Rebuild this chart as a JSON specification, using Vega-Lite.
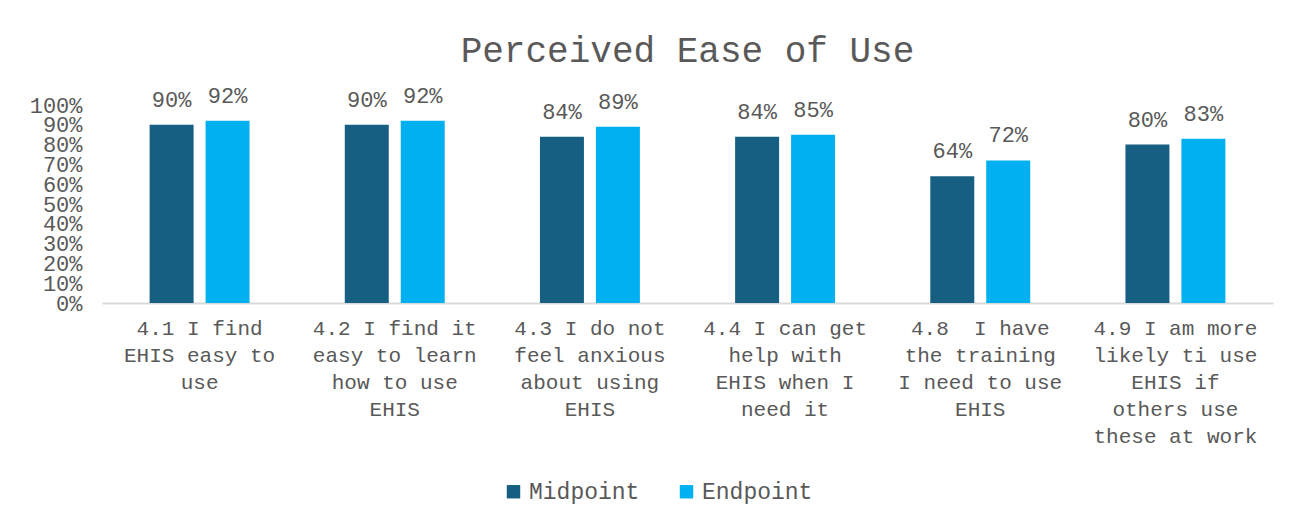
{
  "$schema": "https://vega.github.io/schema/vega-lite/v6.json",
  "width": 1171,
  "height": 198,
  "autosize": {"type": "none"},
  "padding": {"left": 102, "top": 105, "right": 33, "bottom": 219},
  "background": "white",
  "title": {
    "text": "Perceived Ease of Use",
    "font": "Liberation Mono",
    "fontSize": 36,
    "fontWeight": "normal",
    "color": "#595959",
    "anchor": "middle",
    "offset": 15
  },
  "data": {
    "values": [
      {"item": "4.1 I find\nEHIS easy to\nuse", "order": 1, "period": "Midpoint", "value": 0.90},
      {"item": "4.1 I find\nEHIS easy to\nuse", "order": 1, "period": "Endpoint", "value": 0.92},
      {"item": "4.2 I find it\neasy to learn\nhow to use\nEHIS", "order": 2, "period": "Midpoint", "value": 0.90},
      {"item": "4.2 I find it\neasy to learn\nhow to use\nEHIS", "order": 2, "period": "Endpoint", "value": 0.92},
      {"item": "4.3 I do not\nfeel anxious\nabout using\nEHIS", "order": 3, "period": "Midpoint", "value": 0.84},
      {"item": "4.3 I do not\nfeel anxious\nabout using\nEHIS", "order": 3, "period": "Endpoint", "value": 0.89},
      {"item": "4.4 I can get\nhelp with\nEHIS when I\nneed it", "order": 4, "period": "Midpoint", "value": 0.84},
      {"item": "4.4 I can get\nhelp with\nEHIS when I\nneed it", "order": 4, "period": "Endpoint", "value": 0.85},
      {"item": "4.8\u00a0 I have\nthe training\nI need to use\nEHIS", "order": 5, "period": "Midpoint", "value": 0.64},
      {"item": "4.8\u00a0 I have\nthe training\nI need to use\nEHIS", "order": 5, "period": "Endpoint", "value": 0.72},
      {"item": "4.9 I am more\nlikely ti use\nEHIS if\nothers use\nthese at work", "order": 6, "period": "Midpoint", "value": 0.80},
      {"item": "4.9 I am more\nlikely ti use\nEHIS if\nothers use\nthese at work", "order": 6, "period": "Endpoint", "value": 0.83}
    ]
  },
  "encoding": {
    "x": {
      "field": "item",
      "type": "nominal",
      "sort": {"field": "order"},
      "scale": {"paddingInner": 0.488, "paddingOuter": 0.244},
      "axis": {
        "title": null,
        "labelAngle": 0,
        "labelExpr": "split(datum.label, '\\n')",
        "labelFont": "Liberation Mono",
        "labelFontSize": 21,
        "labelColor": "#595959",
        "labelLineHeight": 27,
        "labelPadding": 14,
        "labelBaseline": "top",
        "ticks": false,
        "domainColor": "#D9D9D9",
        "domainWidth": 2,
        "labelLimit": 0
      }
    },
    "xOffset": {
      "field": "period",
      "type": "nominal",
      "sort": ["Midpoint", "Endpoint"],
      "scale": {"paddingInner": 0.214, "paddingOuter": 0}
    },
    "y": {
      "field": "value",
      "type": "quantitative",
      "scale": {"domain": [0, 1]},
      "axis": {
        "title": null,
        "format": ".0%",
        "values": [0, 0.1, 0.2, 0.3, 0.4, 0.5, 0.6, 0.7, 0.8, 0.9, 1.0],
        "labelOverlap": false,
        "grid": false,
        "domain": false,
        "ticks": false,
        "labelFont": "Liberation Mono",
        "labelFontSize": 22,
        "labelColor": "#595959",
        "labelPadding": 20
      }
    },
    "color": {
      "field": "period",
      "type": "nominal",
      "sort": ["Midpoint", "Endpoint"],
      "scale": {"domain": ["Midpoint", "Endpoint"], "range": ["#165E82", "#00B0F0"]},
      "legend": {
        "title": null,
        "orient": "none",
        "legendX": 400,
        "legendY": 375,
        "padding": 0,
        "direction": "horizontal",
        "symbolType": "square",
        "symbolSize": 180,
        "symbolStrokeWidth": 0,
        "labelFont": "Liberation Mono",
        "labelFontSize": 23,
        "labelColor": "#595959",
        "labelOffset": 4,
        "columnPadding": 35
      }
    }
  },
  "layer": [
    {"mark": {"type": "bar"}},
    {
      "mark": {
        "type": "text",
        "baseline": "alphabetic",
        "dy": -18,
        "font": "Liberation Mono",
        "fontSize": 22,
        "color": "#595959"
      },
      "encoding": {
        "text": {"field": "value", "type": "quantitative", "format": ".0%"},
        "color": {"value": "#595959"}
      }
    }
  ],
  "config": {
    "view": {"stroke": null}
  }
}
